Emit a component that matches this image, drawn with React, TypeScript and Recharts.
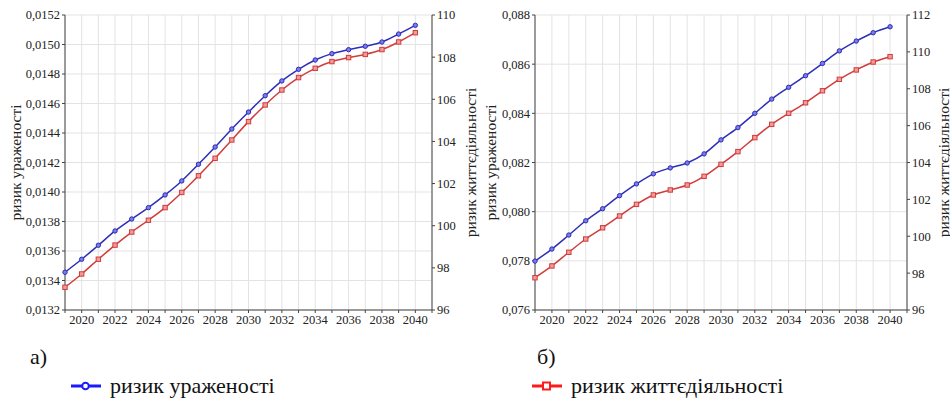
import React from 'react';
import { LineChart, Line, XAxis, YAxis, CartesianGrid } from 'recharts';

const years = [2019, 2020, 2021, 2022, 2023, 2024, 2025, 2026, 2027, 2028, 2029, 2030, 2031, 2032, 2033, 2034, 2035, 2036, 2037, 2038, 2039, 2040];

// chart а)
const leftUrazh = [0.013456, 0.013544, 0.013639, 0.013736, 0.013817, 0.013894, 0.01398, 0.014075, 0.014188, 0.014305, 0.014427, 0.014542, 0.014653, 0.014753, 0.014832, 0.014895, 0.014938, 0.014965, 0.014988, 0.015017, 0.015071, 0.01513];
const leftZhyt = [97.08, 97.71, 98.41, 99.08, 99.7, 100.26, 100.86, 101.58, 102.37, 103.2, 104.07, 104.94, 105.73, 106.44, 107.03, 107.47, 107.79, 107.98, 108.13, 108.36, 108.72, 109.16];

// chart б)
const rightUrazh = [0.07799, 0.07848, 0.07905, 0.07963, 0.08012, 0.08065, 0.08113, 0.08154, 0.08178, 0.08198, 0.08235, 0.08292, 0.08342, 0.084, 0.08458, 0.08506, 0.08553, 0.08603, 0.08654, 0.08694, 0.08728, 0.08752];
const rightZhyt = [97.75, 98.39, 99.13, 99.85, 100.46, 101.1, 101.73, 102.24, 102.51, 102.78, 103.25, 103.9, 104.59, 105.35, 106.07, 106.67, 107.24, 107.89, 108.51, 109.02, 109.45, 109.74];

const xTicks = [2019, 2020, 2021, 2022, 2023, 2024, 2025, 2026, 2027, 2028, 2029, 2030, 2031, 2032, 2033, 2034, 2035, 2036, 2037, 2038, 2039, 2040, 2041];
const leftTicksA = [0.0132, 0.0134, 0.0136, 0.0138, 0.014, 0.0142, 0.0144, 0.0146, 0.0148, 0.015, 0.0152];
const rightTicksA = [96, 98, 100, 102, 104, 106, 108, 110];
const leftTicksB = [0.076, 0.078, 0.08, 0.082, 0.084, 0.086, 0.088];
const rightTicksB = [96, 98, 100, 102, 104, 106, 108, 110, 112];

const LABEL_URAZH = 'ризик ураженості';
const LABEL_ZHYT = 'ризик життєдіяльності';

const BLUE = '#2e2eb8';
const RED = '#d23c3c';
const AXIS = '#444';
const GRID = '#e3e3e3';
const FONT = '"Liberation Serif", "Times New Roman", Tinos, "DejaVu Serif", serif';

const dataA = years.map((y, i) => ({ year: y, u: leftUrazh[i], z: leftZhyt[i] }));
const dataB = years.map((y, i) => ({ year: y, u: rightUrazh[i], z: rightZhyt[i] }));

const tickStyle = { fontFamily: FONT, fontSize: 12.5, fill: '#222' };

const BlueDot = (p: any) => (
  <circle key={p.index} cx={p.cx} cy={p.cy} r={2.2} fill="#7b7bea" stroke={BLUE} strokeWidth={1} />
);
const RedDot = (p: any) => (
  <rect key={p.index} x={p.cx - 2.2} y={p.cy - 2.2} width={4.4} height={4.4} fill="#f09a9a" stroke={RED} strokeWidth={1} />
);

// rotated axis titles; each entry is [text, x offset from axis box left]
const axisTitle = (items: [string, number][]) => (props: any) => {
  const vb = props.viewBox || {};
  const cy = vb.y + vb.height / 2;
  return (
    <g>
      {items.map(([t, dx]) => {
        const x = vb.x + dx;
        return (
          <text key={t} x={x} y={cy} transform={`rotate(-90, ${x}, ${cy})`} textAnchor="middle"
            dominantBaseline="central" style={{ fontFamily: FONT, fontSize: 15.5, fill: '#222' }}>{t}</text>
        );
      })}
    </g>
  );
};

const yearFmt = (v: number) => (v % 2 === 0 ? String(v) : '');

const Chart: React.FC<{
  data: any[]; width: number; leftW: number; rightW: number; leftTicks: number[]; rightTicks: number[];
  digits: number; leftTitle: [string, number][]; rightTitle: [string, number][];
}> = ({ data, width, leftW, rightW, leftTicks, rightTicks, digits, leftTitle, rightTitle }) => (
  <LineChart width={width} height={340} data={data} margin={{ top: 15, right: 0, bottom: 0, left: 0 }}>
    <CartesianGrid yAxisId="l" xAxisId="b" stroke={GRID} strokeWidth={1} />
    <XAxis xAxisId="b" dataKey="year" type="number" domain={[2019, 2041]} ticks={xTicks} tickFormatter={yearFmt}
      interval={0} height={30} tick={tickStyle} stroke={AXIS} tickSize={3} allowDecimals={false} />
    <XAxis xAxisId="t" orientation="top" dataKey="year" type="number" domain={[2019, 2041]} ticks={xTicks}
      tick={false} height={0} stroke={AXIS} tickSize={3} />
    <YAxis yAxisId="l" domain={[leftTicks[0], leftTicks[leftTicks.length - 1]]} ticks={leftTicks} width={leftW}
      tickFormatter={(v: number) => v.toFixed(digits).replace('.', ',')} tick={tickStyle} stroke={AXIS} tickSize={3}
      interval={0} label={{ content: axisTitle(leftTitle) }} />
    <YAxis yAxisId="r" orientation="right" domain={[rightTicks[0], rightTicks[rightTicks.length - 1]]} ticks={rightTicks}
      width={rightW} tick={tickStyle} stroke={AXIS} tickSize={3} interval={0} label={{ content: axisTitle(rightTitle) }} />
    <Line xAxisId="b" yAxisId="l" dataKey="u" stroke={BLUE} strokeWidth={1.5} dot={BlueDot} type="monotone" isAnimationActive={false} />
    <Line xAxisId="b" yAxisId="r" dataKey="z" stroke={RED} strokeWidth={1.5} dot={RedDot} type="monotone" isAnimationActive={false} />
  </LineChart>
);

const textStyle: React.CSSProperties = { position: 'absolute', fontFamily: FONT, fontSize: 22, color: '#111', lineHeight: 1, whiteSpace: 'nowrap' };

const LegendItem: React.FC<{ left: number; color: string; square: boolean; text: string }> = ({ left, color, square, text }) => (
  <div style={{ position: 'absolute', left, top: 375, height: 22 }}>
    <svg width={34} height={22} style={{ position: 'absolute', left: 0, top: 0 }}>
      <line x1={2} y1={11} x2={32} y2={11} stroke={color} strokeWidth={3} />
      {square
        ? <rect x={13} y={7.5} width={7} height={7} fill="#fff" stroke={color} strokeWidth={2} />
        : <circle cx={16.5} cy={11} r={3.3} fill="#fff" stroke={color} strokeWidth={2} />}
    </svg>
    <span style={{ ...textStyle, left: 41, top: 0 }}>{text}</span>
  </div>
);

export default function App() {
  return (
    <div style={{ position: 'absolute', left: 0, top: 0, width: 950, height: 399, background: '#fff', overflow: 'hidden' }}>
      <div style={{ position: 'absolute', left: 465, top: 0 }}>
        <Chart data={dataB} width={485} leftW={70} rightW={43} leftTicks={leftTicksB} rightTicks={rightTicksB} digits={3}
          leftTitle={[[LABEL_URAZH, 25]]} rightTitle={[[LABEL_ZHYT, 36]]} />
      </div>
      <div style={{ position: 'absolute', left: 0, top: 0 }}>
        <Chart data={dataA} width={483} leftW={65} rightW={51} leftTicks={leftTicksA} rightTicks={rightTicksA} digits={4}
          leftTitle={[[LABEL_URAZH, 15]]} rightTitle={[[LABEL_ZHYT, 38]]} />
      </div>
      <span style={{ ...textStyle, left: 30, top: 346 }}>а)</span>
      <span style={{ ...textStyle, left: 537, top: 346 }}>б)</span>
      <LegendItem left={69} color="#1a1aff" square={false} text={LABEL_URAZH} />
      <LegendItem left={530} color="#ff1a1a" square={true} text={LABEL_ZHYT} />
    </div>
  );
}
